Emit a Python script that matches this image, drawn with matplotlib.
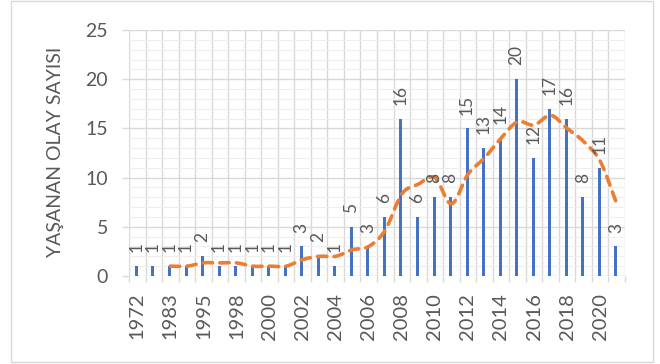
import numpy as np
import pandas as pd
import matplotlib
matplotlib.use("Agg")
import matplotlib.pyplot as plt
from matplotlib.path import Path
from matplotlib.patches import PathPatch, Rectangle
from matplotlib.ticker import MultipleLocator, FixedLocator

# Datos
anios = ["1972", "1978", "1983", "1990", "1995", "1997", "1998", "1999", "2000", "2001",
         "2002", "2003", "2004", "2005", "2006", "2007", "2008", "2009", "2010", "2011",
         "2012", "2013", "2014", "2015", "2016", "2017", "2018", "2019", "2020", "2021"]
olaylar = [1, 1, 1, 1, 2, 1, 1, 1, 1, 1,
           3, 2, 1, 5, 3, 6, 16, 6, 8, 8,
           15, 13, 14, 20, 12, 17, 16, 8, 11, 3]
periodo_media = 3

gris_texto = "#595959"
gris_grid = "#D9D9D9"
azul = "#4472C4"
naranja = "#ED7D31"

plt.rcParams["font.family"] = ["Lato", "DejaVu Sans"]

fig = plt.figure(figsize=(6.6, 3.64), dpi=100)
ax = fig.add_axes([129 / 660, 1 - 276 / 364, (625 - 129) / 660, (276 - 30) / 364])

x = np.arange(len(anios))
ax.bar(x - 0.05, olaylar, width=0.18, color=azul, zorder=3)

# Etiquetas de datos
for xi, v in zip(x, olaylar):
    ax.annotate(str(v), (xi - 0.05, v), xytext=(0, 10), textcoords="offset points",
                rotation=90, ha="center", va="bottom", fontsize=12.5,
                color=gris_texto, zorder=5)

# Media movil (3 periodos) suavizada
media = pd.Series(olaylar).rolling(periodo_media).mean()
pts = np.column_stack([x, media.values])[periodo_media - 1:]
verts = [tuple(pts[0])]
codes = [Path.MOVETO]
n = len(pts)
for i in range(n - 1):
    p0 = pts[i - 1] if i > 0 else pts[i]
    p1 = pts[i]
    p2 = pts[i + 1]
    p3 = pts[i + 2] if i + 2 < n else pts[i + 1]
    c1 = p1 + (p2 - p0) / 6
    c2 = p2 - (p3 - p1) / 6
    verts += [tuple(c1), tuple(c2), tuple(p2)]
    codes += [Path.CURVE4] * 3
ax.add_patch(PathPatch(Path(verts, codes), fill=False, edgecolor=naranja, lw=2.6,
                       linestyle=(0, (2.6, 2.0)), capstyle="round", zorder=4))

# Ejes
ax.set_xlim(-0.5, len(anios) - 0.5)
ax.set_ylim(0, 25)
ax.yaxis.set_major_locator(MultipleLocator(5))
ax.yaxis.set_minor_locator(MultipleLocator(1))
ax.xaxis.set_major_locator(FixedLocator(x[::2]))
ax.set_xticklabels(anios[::2], rotation=90)
ax.xaxis.set_minor_locator(FixedLocator(np.arange(len(anios) + 1) - 0.5))

ax.grid(which="major", axis="y", color=gris_grid, lw=1.0, zorder=0)
ax.grid(which="minor", axis="y", color="#EEEEEE", lw=0.8, zorder=0)
ax.grid(which="minor", axis="x", color=gris_grid, lw=1.0, zorder=0)

ax.tick_params(axis="y", which="major", length=5, width=1.0, color=gris_grid,
               labelsize=14, labelcolor=gris_texto, pad=10)
ax.tick_params(axis="y", which="minor", length=0)
ax.tick_params(axis="x", which="major", length=0, labelsize=14.5,
               labelcolor=gris_texto, pad=12)
ax.tick_params(axis="x", which="minor", length=4.5, width=1.0, color=gris_grid)

for s in ax.spines.values():
    s.set_visible(False)

fig.text(56 / 660, 1 - 152 / 364, "YAŞANAN OLAY SAYISI", rotation=90, ha="center",
         va="center", fontsize=14, color=gris_texto)

fig.patches.append(Rectangle((11 / 660, 1 - 362 / 364), (653 - 11) / 660, (362 - 1) / 364,
                             transform=fig.transFigure, fill=False,
                             edgecolor=gris_grid, lw=1.0))

fig.savefig("out.png", dpi=100)
